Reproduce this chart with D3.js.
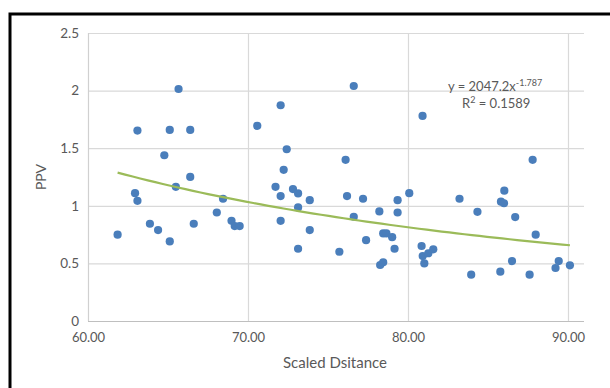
<!DOCTYPE html>
<html><head><meta charset="utf-8">
<script src="https://cdn.jsdelivr.net/npm/d3@7"></script>
<style>body{margin:0;background:#fff}svg{display:block;font-family:Lato,"Open Sans",sans-serif}</style>
</head><body><svg id="c" width="610" height="388"></svg>
<script>
const xValues = [61.85,62.94,63.09,63.09,63.87,64.38,64.77,65.11,65.11,65.49,65.66,66.39,66.39,66.61,68.05,68.44,68.97,69.17,69.48,70.58,71.72,72.04,72.04,72.04,72.23,72.42,72.81,73.13,73.13,73.13,73.86,73.86,75.71,76.10,76.19,76.61,76.61,77.19,77.38,78.21,78.26,78.45,78.45,78.65,79.01,79.16,79.35,79.35,80.08,80.85,80.92,80.91,81.02,81.27,81.58,83.22,83.95,84.34,85.81,85.77,86.00,86.02,86.50,86.70,87.60,87.79,87.98,89.22,89.42,90.12];
const yValues = [0.749,1.110,1.043,1.653,0.844,0.789,1.439,0.691,1.659,1.165,2.014,1.251,1.659,0.844,0.942,1.061,0.870,0.824,0.824,1.694,1.165,1.084,0.870,1.873,1.312,1.491,1.145,1.107,0.986,0.627,1.049,0.789,0.601,1.399,1.084,2.040,0.905,1.061,0.702,0.951,0.486,0.509,0.760,0.760,0.728,0.627,1.049,0.942,1.110,0.651,0.564,1.780,0.500,0.588,0.622,1.061,0.402,0.948,1.036,0.428,1.022,1.131,0.520,0.902,0.402,1.399,0.749,0.460,0.520,0.483];
const xTicks = [60,70,80,90];
const yTicks = [0,0.5,1,1.5,2,2.5];
const trendA = 2047.2, trendB = -1.787;
const eqText = "y = 2047.2x", eqExp = "-1.787", r2Text = " = 0.1589";

const svg = d3.select("#c");
const L = 88, R = 584, T = 33, B = 321;
const x = d3.scaleLinear().domain([60, 60 + (R - L) / 16]).range([L, R]);
const y = d3.scaleLinear().domain([0, 2.5]).range([B, T]);

// frame
svg.append("path").attr("d", `M10,388 V14 H610`).attr("fill","none").attr("stroke","#000").attr("stroke-width",3);

// gridlines
const gy = svg.append("g").attr("transform",`translate(${L},0)`)
  .call(d3.axisLeft(y).tickValues(yTicks).tickSize(-(R-L)).tickFormat(d=>d3.format("")(d)).tickPadding(9));
gy.select(".domain").remove();
gy.selectAll(".tick line").attr("stroke","#d9d9d9").attr("stroke-width",1.2);
gy.selectAll(".tick text").attr("fill","#595959").attr("font-size",13.5).attr("font-family","Lato,sans-serif");
gy.selectAll(".tick").filter(d=>d===0).select("line").attr("stroke","#bfbfbf");

const gx = svg.append("g").attr("transform",`translate(0,${B})`)
  .call(d3.axisBottom(x).tickValues(xTicks).tickSize(-(B-T)).tickFormat(d3.format(".2f")).tickPadding(12));
gx.select(".domain").remove();
gx.selectAll(".tick line").attr("stroke","#d9d9d9").attr("stroke-width",1.2);
gx.selectAll(".tick text").attr("fill","#595959").attr("font-size",13).attr("font-family","Lato,sans-serif");
gx.selectAll(".tick").filter(d=>d===60).select("line").attr("stroke","#d0d0d0");
// bottom axis line
svg.append("line").attr("x1",L).attr("x2",R).attr("y1",B+0.5).attr("y2",B+0.5).attr("stroke","#bfbfbf").attr("stroke-width",1.2);

// trendline
const xmin = d3.min(xValues), xmax = d3.max(xValues);
const trendPts = d3.range(0, 61).map(i => { const xv = xmin + (xmax - xmin) * i / 60; return [xv, trendA * Math.pow(xv, trendB)]; });

// points
svg.append("g").selectAll("circle").data(xValues.map((v,i)=>[v,yValues[i]])).join("circle")
  .attr("cx",d=>x(d[0])).attr("cy",d=>y(d[1])).attr("r",4.1).attr("fill","#4a7ebb");

svg.append("path").datum(trendPts)
  .attr("d", d3.line().x(d=>x(d[0])).y(d=>y(d[1])))
  .attr("fill","none").attr("stroke","#9bbb59").attr("stroke-width",2.2);

// equation
const eq = svg.append("text").attr("x",448).attr("y",91).attr("fill","#595959").attr("font-size",13).attr("font-family","Lato,sans-serif");
eq.append("tspan").text(eqText);
eq.append("tspan").attr("dy",-5).attr("font-size",9).text(eqExp);
const r2 = svg.append("text").attr("x",462).attr("y",108).attr("fill","#595959").attr("font-size",13).attr("font-family","Lato,sans-serif");
r2.append("tspan").text("R");
r2.append("tspan").attr("dy",-5).attr("font-size",9).text("2");
r2.append("tspan").attr("dy",5).text(r2Text);

// axis titles
svg.append("text").attr("x",335).attr("y",368).attr("text-anchor","middle").attr("fill","#595959").attr("font-size",15).text("Scaled Dsitance");
svg.append("text").attr("transform","translate(46,177) rotate(-90)").attr("text-anchor","middle").attr("fill","#595959").attr("font-size",14).text("PPV");
</script></body></html>
